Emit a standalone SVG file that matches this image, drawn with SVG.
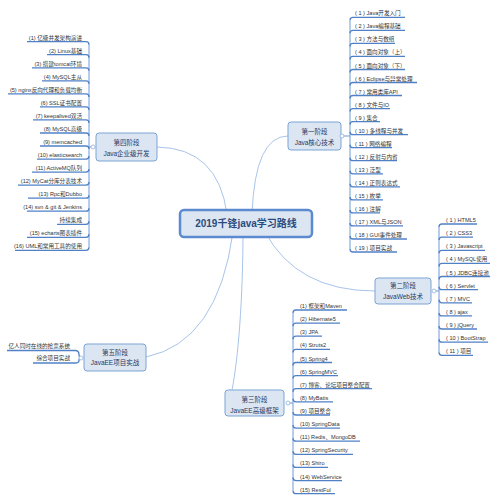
<svg xmlns="http://www.w3.org/2000/svg" width="500" height="502" viewBox="0 0 500 502">
<style>
.item{font-family:"Liberation Sans","Noto Sans CJK SC",sans-serif;font-size:5.6px;fill:#333}
.end{text-anchor:end}
.stage{font-family:"Liberation Sans","Noto Sans CJK SC",sans-serif;font-size:6.5px;fill:#1f3864;text-anchor:middle}
.title{font-family:"Liberation Sans","Noto Sans CJK SC",sans-serif;font-size:10px;font-weight:bold;fill:#2b4b7e;text-anchor:middle}
.ul{stroke:#4f81c7;stroke-width:1.3;fill:none}
.sp{stroke:#6f9bd6;stroke-width:1;fill:none}
.conn{stroke:#a9c4e8;stroke-width:1;fill:none}
.box{fill:#dce6f2;stroke:#7aa3d6;stroke-width:1}
.cbox{fill:#dce6f2;stroke:#5b8ad0;stroke-width:2.5}
.dot{fill:#fff;stroke:#8db0dd;stroke-width:0.8}
</style>
<rect width="500" height="502" fill="#fff"/>
<g id="connectors">
<path class="conn" d="M157,147 Q218,148 227,214"/>
<path class="conn" d="M288,136 Q255,136 252,214"/>
<path class="conn" d="M265,232 Q297,291 375,291"/>
<path class="conn" d="M243,230 C243,300 238,360 232,390"/>
<path class="conn" d="M146,357 Q218,342 233,232"/>
<!-- stage 1 -->
<path class="sp" d="M342,136H350M350,20.3V249"/>
<path class="ul" d="M350,20.3Q350,17.3 353,17.3H405M350,33.3Q350,30.3 353,30.3H405M350,46.4Q350,43.4 353,43.4H395M350,59.4Q350,56.4 353,56.4H405M350,72.5Q350,69.5 353,69.5H405M350,85.5Q350,82.5 353,82.5H417M350,98.5Q350,95.5 353,95.5H402M350,111.6Q350,108.6 353,108.6H390M350,124.6Q350,121.6 353,121.6H380M350,131.7Q350,134.7 353,134.7H408M350,144.7Q350,147.7 353,147.7H392M350,157.7Q350,160.7 353,160.7H397M350,170.8Q350,173.8 353,173.8H383M350,183.8Q350,186.8 353,186.8H400M350,196.9Q350,199.9 353,199.9H383M350,209.9Q350,212.9 353,212.9H380M350,222.9Q350,225.9 353,225.9H403M350,236Q350,239 353,239H407M350,249Q350,252 353,252H397"/>
<!-- stage 2 -->
<path class="sp" d="M435,291H439M439,227V352.3"/>
<path class="ul" d="M439,227Q439,224 442,224H477M439,240.1Q439,237.1 442,237.1H473M439,253.3Q439,250.3 442,250.3H485M439,266.4Q439,263.4 442,263.4H490M439,279.5Q439,276.5 442,276.5H490M439,286.7Q439,289.7 442,289.7H478M439,299.8Q439,302.8 442,302.8H472M439,312.9Q439,315.9 442,315.9H472M439,326Q439,329 442,329H477M439,339.2Q439,342.2 442,342.2H488M439,352.3Q439,355.3 442,355.3H473"/>
<!-- stage 3 -->
<path class="sp" d="M289,403H293M293,313V490.7"/>
<path class="ul" d="M293,313Q293,310 296,310H347M293,326.1Q293,323.1 296,323.1H340M293,339.2Q293,336.2 296,336.2H322M293,352.4Q293,349.4 296,349.4H330M293,365.5Q293,362.5 296,362.5H332M293,378.6Q293,375.6 296,375.6H338M293,391.7Q293,388.7 296,388.7H372M293,398.8Q293,401.8 296,401.8H333M293,412Q293,415 296,415H330M293,425.1Q293,428.1 296,428.1H340M293,438.2Q293,441.2 296,441.2H360M293,451.3Q293,454.3 296,454.3H353M293,464.4Q293,467.4 296,467.4H328M293,477.6Q293,480.6 296,480.6H342M293,490.7Q293,493.7 296,493.7H335"/>
<!-- stage 4 -->
<path class="sp" d="M92,147H89M89,44.7V247.3"/>
<path class="ul" d="M89,44.7Q89,41.7 86,41.7H27M89,57.7Q89,54.7 86,54.7H47M89,70.8Q89,67.8 86,67.8H32M89,83.8Q89,80.8 86,80.8H42M89,96.9Q89,93.9 86,93.9H8M89,109.9Q89,106.9 86,106.9H40M89,122.9Q89,119.9 86,119.9H33M89,136Q89,133 86,133H40M89,149Q89,146 86,146H40M89,156.1Q89,159.1 86,159.1H37M89,169.1Q89,172.1 86,172.1H32M89,182.1Q89,185.1 86,185.1H18M89,195.2Q89,198.2 86,198.2H28M89,208.2Q89,211.2 86,211.2H27M89,221.3Q89,224.3 86,224.3H57M89,234.3Q89,237.3 86,237.3H27M89,247.3Q89,250.3 86,250.3H15"/>
<!-- stage 5 -->
<path class="ul" d="M7,350.5H75Q79,350.5 79,354.5Q79,358 81,358M33,363H75Q79,363 79,360.5Q79,358 81,358"/>
</g>
<g id="central">
<rect class="cbox" x="180" y="210" width="132" height="27" rx="4"/>
<text class="title" x="246" y="227">2019千锋java学习路线</text>
</g>
<g id="stage1">
<rect class="box" x="288" y="122" width="53" height="28" rx="3"/>
<text class="stage" x="314.5" y="133.5">第一阶段</text>
<text class="stage" x="314.5" y="144.5">Java核心技术</text>
<circle class="dot" cx="342" cy="136" r="2"/>
<text class="item" x="355" y="15.3">( 1 ) Java开发入门</text>
<text class="item" x="355" y="28.3">( 2 ) Java编程基础</text>
<text class="item" x="355" y="41.4">( 3 ) 方法与数组</text>
<text class="item" x="355" y="54.4">( 4 ) 面向对象（上）</text>
<text class="item" x="355" y="67.5">( 5 ) 面向对象（下）</text>
<text class="item" x="355" y="80.5">( 6 ) Eclipse与异常处理</text>
<text class="item" x="355" y="93.5">( 7 ) 常用类库API</text>
<text class="item" x="355" y="106.6">( 8 ) 文件与IO</text>
<text class="item" x="355" y="119.6">( 9 ) 集合</text>
<text class="item" x="355" y="132.7">( 10 ) 多线程与并发</text>
<text class="item" x="355" y="145.7">( 11 ) 网络编程</text>
<text class="item" x="355" y="158.7">( 12 ) 反射与内省</text>
<text class="item" x="355" y="171.8">( 13 ) 泛型</text>
<text class="item" x="355" y="184.8">( 14 ) 正则表达式</text>
<text class="item" x="355" y="197.9">( 15 ) 枚举</text>
<text class="item" x="355" y="210.9">( 16 ) 注解</text>
<text class="item" x="355" y="223.9">( 17 ) XML与JSON</text>
<text class="item" x="355" y="237">( 18 ) GUI事件处理</text>
<text class="item" x="355" y="250">( 19 ) 项目实战</text>
</g>
<g id="stage2">
<rect class="box" x="375" y="278" width="56" height="26" rx="3"/>
<text class="stage" x="403" y="287.5">第二阶段</text>
<text class="stage" x="403" y="298.5">JavaWeb技术</text>
<circle class="dot" cx="434" cy="291" r="2"/>
<text class="item" x="446" y="222">( 1 ) HTML5</text>
<text class="item" x="446" y="235.1">( 2 ) CSS3</text>
<text class="item" x="446" y="248.3">( 3 ) Javascript</text>
<text class="item" x="446" y="261.4">( 4 ) MySQL使用</text>
<text class="item" x="446" y="274.5">( 5 ) JDBC连接池</text>
<text class="item" x="446" y="287.7">( 6 ) Servlet</text>
<text class="item" x="446" y="300.8">( 7 ) MVC</text>
<text class="item" x="446" y="313.9">( 8 ) ajax</text>
<text class="item" x="446" y="327">( 9 ) jQuery</text>
<text class="item" x="446" y="340.2">( 10 ) BootStrap</text>
<text class="item" x="446" y="353.3">( 11 ) 项目</text>
</g>
<g id="stage3">
<rect class="box" x="225" y="390" width="59" height="26" rx="3"/>
<text class="stage" x="254.5" y="401.5">第三阶段</text>
<text class="stage" x="254.5" y="412.5">JavaEE高级框架</text>
<circle class="dot" cx="288" cy="403" r="2"/>
<text class="item" x="300" y="308">(1) 框架和Maven</text>
<text class="item" x="300" y="321.1">(2) Hibernate5</text>
<text class="item" x="300" y="334.2">(3) JPA</text>
<text class="item" x="300" y="347.4">(4) Struts2</text>
<text class="item" x="300" y="360.5">(5) Spring4</text>
<text class="item" x="300" y="373.6">(6) SpringMVC</text>
<text class="item" x="300" y="386.7">(7) 博客、论坛项目整合配置</text>
<text class="item" x="300" y="399.8">(8) MyBatis</text>
<text class="item" x="300" y="413">(9) 项目整合</text>
<text class="item" x="300" y="426.1">(10) SpringData</text>
<text class="item" x="300" y="439.2">(11) Redis、MongoDB</text>
<text class="item" x="300" y="452.3">(12) SpringSecurity</text>
<text class="item" x="300" y="465.4">(13) Shiro</text>
<text class="item" x="300" y="478.6">(14) WebService</text>
<text class="item" x="300" y="491.7">(15) RestFul</text>
</g>
<g id="stage4">
<rect class="box" x="96" y="133" width="61" height="28" rx="3"/>
<text class="stage" x="126.5" y="145">第四阶段</text>
<text class="stage" x="126.5" y="155.5">Java企业级开发</text>
<circle class="dot" cx="93" cy="147" r="2"/>
<text class="item end" x="82" y="39.7">(1) 亿级并发架构演进</text>
<text class="item end" x="82" y="52.7">(2) Linux基础</text>
<text class="item end" x="82" y="65.8">(3) 搭建tomcat环境</text>
<text class="item end" x="82" y="78.8">(4) MySQL主从</text>
<text class="item end" x="82" y="91.9">(5) nginx反向代理和负载均衡</text>
<text class="item end" x="82" y="104.9">(6) SSL证书配置</text>
<text class="item end" x="82" y="117.9">(7) keepalived双活</text>
<text class="item end" x="82" y="131">(8) MySQL高级</text>
<text class="item end" x="82" y="144">(9) memcached</text>
<text class="item end" x="82" y="157.1">(10) elasticsearch</text>
<text class="item end" x="82" y="170.1">(11) ActiveMQ队列</text>
<text class="item end" x="82" y="183.1">(12) MyCat分库分表技术</text>
<text class="item end" x="82" y="196.2">(13) Rpc和Dubbo</text>
<text class="item end" x="82" y="209.2">(14) svn &amp; git &amp; Jenkins</text>
<text class="item end" x="82" y="222.3">持续集成</text>
<text class="item end" x="82" y="235.3">(15) echarts图表插件</text>
<text class="item end" x="82" y="248.3">(16) UML和常用工具的使用</text>
</g>
<g id="stage5">
<rect class="box" x="84" y="344" width="62" height="27" rx="3"/>
<text class="stage" x="115" y="354.5">第五阶段</text>
<text class="stage" x="115" y="364.8">JavaEE项目实战</text>
<circle class="dot" cx="81" cy="358" r="2"/>
<text class="item end" x="70" y="347.8">亿人同时在线的抢票系统</text>
<text class="item end" x="70" y="360">综合项目实战</text>
</g>
</svg>
